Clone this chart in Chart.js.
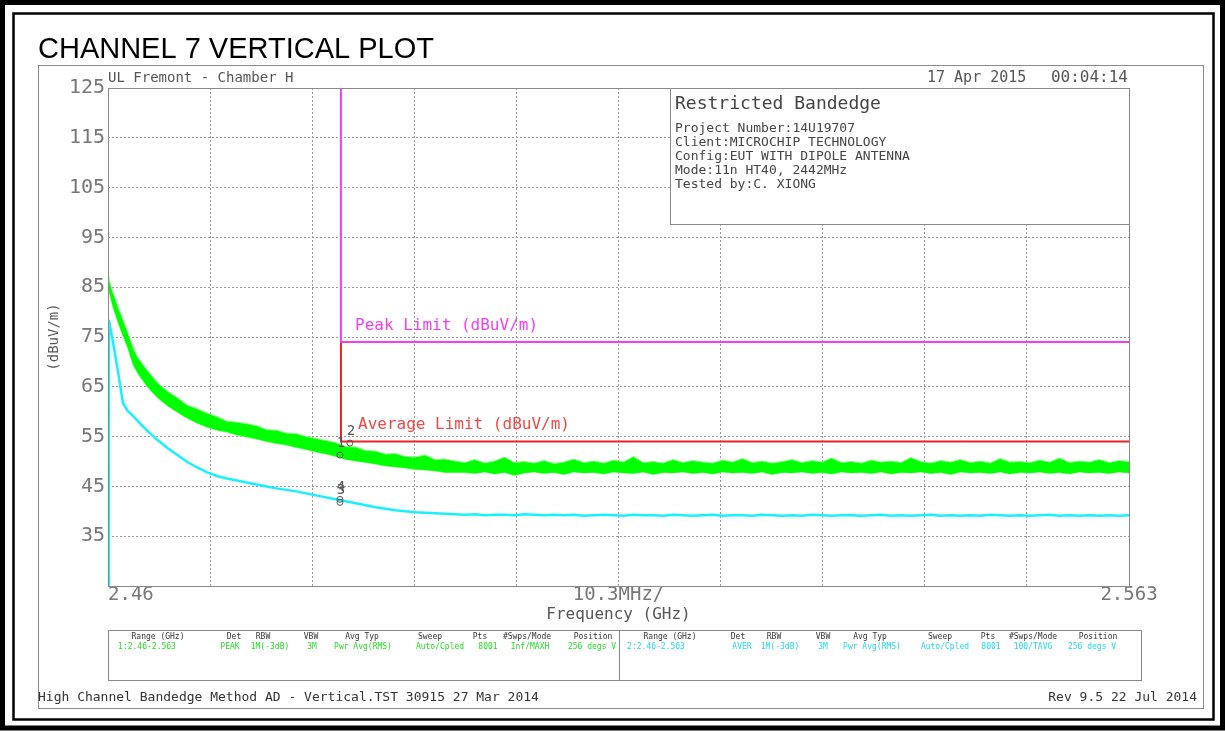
<!DOCTYPE html>
<html>
<head>
<meta charset="utf-8">
<title>Channel 7 Vertical Plot</title>
<script src="https://cdn.jsdelivr.net/npm/chart.js@4.4.0/dist/chart.umd.min.js"></script>
<style>
  html, body { margin:0; padding:0; background:#fff; }
  canvas { display:block; }
</style>
</head>
<body>
<canvas id="plot" width="1225" height="732"></canvas>
<script>
// sweep points, MHz above 2.46 GHz
var offsetMHz = [0,0.1,0.5,1,1.5,2,2.5,3,4,5,6,7,8,9,10,
  11,12,13,14,15,16,17,18,19,20,21,22,23,24,25,26,27,28,29,30,
  31,32,33,34,35,36,37,38,39,40,41,42,43,44,45,46,47,48,49,50,
  51,52,53,54,55,56,57,58,59,60,61,62,63,64,65,66,67,68,69,70,
  71,72,73,74,75,76,77,78,79,80,81,82,83,84,85,86,87,88,89,90,
  91,92,93,94,95,96,97,98,99,100,101,102,103];

// trace 1 (PEAK, max hold) - top and bottom of the noise band, dBuV/m
var peakUpper = [87.2,86.6,83.9,81.1,78.5,75.9,73.0,70.9,68.2,65.8,64.1,62.8,61.3,60.6,59.7,
  59.0,58.1,57.9,57.6,57.2,56.4,56.3,55.7,55.6,55.0,54.6,54.2,53.8,53.0,52.9,52.2,52.1,51.5,51.6,51.0,
  50.9,51.3,50.4,50.5,50.1,49.8,50.4,49.7,50.1,50.9,49.8,50.0,49.7,50.2,49.6,49.9,50.5,49.8,50.1,49.7,
  50.3,49.9,51.0,49.8,50.0,49.7,50.4,49.8,50.2,49.9,49.7,50.3,49.9,50.6,49.8,50.1,49.7,50.0,50.4,49.8,
  50.2,49.9,50.7,49.8,50.0,49.7,50.3,49.9,50.1,49.8,50.8,50.0,49.7,50.2,49.9,50.4,49.8,50.1,49.7,50.6,
  49.9,50.0,49.8,50.3,49.9,50.7,49.8,50.1,49.9,50.4,49.8,50.2,50.0];
var peakLower = [85.6,84.2,81.0,78.0,75.3,72.8,69.6,67.7,64.9,62.8,61.2,59.9,58.7,57.7,56.9,
  56.3,55.9,55.3,54.9,54.5,54.0,53.6,53.3,52.8,52.4,51.9,51.5,51.0,50.4,50.1,49.8,49.5,49.1,48.9,48.7,
  48.4,48.3,48.1,47.8,47.8,47.8,47.6,47.9,47.5,47.8,47.2,47.7,47.9,47.6,47.8,47.4,47.9,47.7,47.8,47.5,
  47.9,47.7,47.6,47.9,47.4,47.8,47.7,47.9,47.6,47.8,47.5,47.9,47.7,47.8,47.6,47.9,47.4,47.8,47.7,47.9,
  47.6,47.8,47.5,47.9,47.7,47.8,47.6,47.9,47.5,47.8,47.7,47.9,47.6,47.8,47.4,47.9,47.7,47.8,47.6,47.9,
  47.5,47.8,47.7,47.9,47.6,47.8,47.5,47.9,47.7,47.8,47.6,47.9,47.7];

// trace 2 (AVER, trace average)
var avgTrace = [25.0,78.4,74.0,68.2,61.8,60.1,59.2,58.1,56.1,54.3,52.7,51.3,49.9,48.8,47.8,
  47.1,46.6,46.2,45.8,45.4,45.0,44.6,44.3,44.0,43.6,43.2,42.8,42.4,42.0,41.6,41.2,40.8,40.5,40.2,40.0,
  39.8,39.7,39.6,39.5,39.4,39.3,39.4,39.2,39.3,39.3,39.2,39.4,39.3,39.2,39.3,39.2,39.3,39.1,39.2,39.3,
  39.2,39.1,39.3,39.2,39.2,39.1,39.3,39.2,39.1,39.2,39.3,39.1,39.2,39.2,39.1,39.3,39.2,39.1,39.2,39.1,
  39.3,39.2,39.1,39.2,39.2,39.1,39.2,39.3,39.1,39.2,39.1,39.2,39.3,39.1,39.2,39.1,39.2,39.1,39.3,39.2,
  39.1,39.2,39.1,39.2,39.3,39.1,39.2,39.1,39.2,39.1,39.2,39.1,39.2];

// limit lines (step at the 2.4835 GHz restricted band edge)
var limitFreq = [2.4835, 2.4835, 2.563];
var peakLimit = [125, 74, 74];
var avgLimit = [74, 54, 54];

// markers
var markerLabel = ['1', '2', '3', '4'];
var markerFreq = [2.4834, 2.4844, 2.4834, 2.4834];
var markerLevel = [51.3, 53.7, 41.8, 42.4];

// axes
var freqTicks = [2.46, 2.4703, 2.4806, 2.4909, 2.5012, 2.5115, 2.5218, 2.5321, 2.5424, 2.5527, 2.563];
var freqTickText = ['    2.46', '', '', '', '', '10.3MHz/', '', '', '', '', '2.563'];
var levelMin = 25, levelMax = 125, levelStep = 10;

var infoTitle = 'Restricted Bandedge';
var infoLines = ['Project Number:14U19707', 'Client:MICROCHIP TECHNOLOGY', 'Config:EUT WITH DIPOLE ANTENNA',
  'Mode:11n HT40, 2442MHz', 'Tested by:C. XIONG'];

var tableHead = ['Range (GHz)', 'Det', 'RBW', 'VBW', 'Avg Typ', 'Sweep', 'Pts', '#Swps/Mode', 'Position'];
var trace1Row = ['1:2.46-2.563', 'PEAK', '1M(-3dB)', '3M', 'Pwr Avg(RMS)', 'Auto/Cpled', '8001', 'Inf/MAXH', '256 degs V'];
var trace2Row = ['2:2.46-2.563', 'AVER', '1M(-3dB)', '3M', 'Pwr Avg(RMS)', 'Auto/Cpled', '8001', '100/TAVG', '256 degs V'];

var MONO = '"DejaVu Sans Mono", monospace';

function pts(xs, ys) {
  return ys.map(function (v, i) { return { x: xs[i], y: v }; });
}
var sweepGHz = offsetMHz.map(function (m) { return 2.46 + m / 1000; });

function txt(ctx, s, x, y, font, color, align) {
  ctx.font = font;
  ctx.fillStyle = color;
  ctx.textAlign = align || 'left';
  ctx.textBaseline = 'middle';
  ctx.fillText(s, x, y);
}

// info box sits over the grid, under the traces
var infoBox = {
  id: 'infoBox',
  beforeDatasetsDraw: function (chart) {
    var ctx = chart.ctx, a = chart.chartArea;
    ctx.save();
    ctx.fillStyle = '#fff';
    ctx.fillRect(670, a.top, a.right - 670, 136);
    ctx.strokeStyle = '#888';
    ctx.lineWidth = 1;
    ctx.strokeRect(670.5, a.top + 0.5, a.right - 670, 136);
    txt(ctx, infoTitle, 675, 104, '18px ' + MONO, '#444');
    infoLines.forEach(function (l, i) {
      txt(ctx, l, 675, 129 + i * 14, '13px ' + MONO, '#444');
    });
    ctx.restore();
  }
};

var sheet = {
  id: 'sheet',
  afterDraw: function (chart) {
    var ctx = chart.ctx, a = chart.chartArea;
    var x = chart.scales.x, y = chart.scales.y;
    ctx.save();

    // plot frame
    ctx.strokeStyle = '#8a8a8a';
    ctx.lineWidth = 1;
    ctx.strokeRect(a.left + 0.5, a.top + 0.5, a.right - a.left, a.bottom - a.top);

    // page frames
    ctx.strokeStyle = '#000';
    ctx.lineWidth = 5;
    ctx.strokeRect(2.5, 2.5, 1220, 725.5);
    ctx.lineWidth = 2.5;
    ctx.strokeRect(13.5, 13.5, 1200, 706);
    ctx.strokeStyle = '#8a8a8a';
    ctx.lineWidth = 1;
    ctx.strokeRect(38.5, 65.5, 1165, 643);

    // headings
    txt(ctx, 'CHANNEL 7 VERTICAL PLOT', 38, 50, '29px "Liberation Sans", Arial, sans-serif', '#000');
    txt(ctx, 'UL Fremont - Chamber H', 108, 78, '14px ' + MONO, '#555');
    txt(ctx, '17 Apr 2015', 927, 78, '15px ' + MONO, '#555');
    txt(ctx, '00:04:14', 1128, 78, '16px ' + MONO, '#555', 'right');

    // limit labels
    txt(ctx, 'Peak Limit (dBuV/m)', 355, y.getPixelForValue(peakLimit[1]) - 16, '16px ' + MONO, '#f040f0');
    txt(ctx, 'Average Limit (dBuV/m)', 358, y.getPixelForValue(avgLimit[1]) - 17, '16px ' + MONO, '#f04848');

    // marker numbers
    markerLabel.forEach(function (m, i) {
      txt(ctx, m, x.getPixelForValue(markerFreq[i]) + 1, y.getPixelForValue(markerLevel[i]) - 12, '14px ' + MONO, '#555', 'center');
    });

    // settings table
    ctx.strokeStyle = '#888';
    ctx.strokeRect(108.5, 630.5, 1033, 50);
    ctx.beginPath();
    ctx.moveTo(619.5, 630);
    ctx.lineTo(619.5, 680);
    ctx.stroke();
    var headL = [158, 234, 263, 311, 362, 430, 480, 527, 593];
    var headR = [670, 738, 774, 823, 870, 940, 988, 1033, 1098];
    var valL = [147, 230, 270, 312, 363, 440, 488, 530, 592];
    var valR = [656, 742, 780, 823, 872, 945, 991, 1033, 1092];
    tableHead.forEach(function (h, i) {
      txt(ctx, h, headL[i], 637, '8px ' + MONO, '#333', 'center');
      txt(ctx, h, headR[i], 637, '8px ' + MONO, '#333', 'center');
      txt(ctx, trace1Row[i], valL[i], 647, '8px ' + MONO, '#22dd22', 'center');
      txt(ctx, trace2Row[i], valR[i], 647, '8px ' + MONO, '#20d8f0', 'center');
    });

    // footer
    txt(ctx, 'High Channel Bandedge Method AD - Vertical.TST 30915 27 Mar 2014', 38, 698, '13px ' + MONO, '#333');
    txt(ctx, 'Rev 9.5 22 Jul 2014', 1197, 698, '13px ' + MONO, '#333', 'right');
    ctx.restore();
  }
};

new Chart(document.getElementById('plot'), {
  type: 'line',
  data: {
    datasets: [
      {
        label: 'Markers',
        data: pts(markerFreq, markerLevel),
        showLine: false,
        pointRadius: 3,
        pointBorderWidth: 1,
        pointBorderColor: '#555',
        pointBackgroundColor: 'rgba(0,0,0,0)'
      },
      {
        label: 'Peak Limit',
        data: pts(limitFreq, peakLimit),
        borderColor: '#f040f0',
        borderWidth: 2,
        pointRadius: 0
      },
      {
        label: 'Average Limit',
        data: pts(limitFreq, avgLimit),
        borderColor: '#ee2222',
        borderWidth: 2,
        pointRadius: 0
      },
      {
        label: 'Trace 2 AVER',
        data: pts(sweepGHz, avgTrace),
        borderColor: '#18f0ff',
        borderWidth: 2.5,
        pointRadius: 0
      },
      {
        label: 'Trace 1 PEAK top',
        data: pts(sweepGHz, peakUpper),
        borderColor: '#7dff7d',
        backgroundColor: '#00ff00',
        borderWidth: 1,
        pointRadius: 0,
        fill: '+1'
      },
      {
        label: 'Trace 1 PEAK bottom',
        data: pts(sweepGHz, peakLower),
        borderColor: '#7dff7d',
        borderWidth: 1,
        pointRadius: 0,
        fill: false
      }
    ]
  },
  options: {
    responsive: false,
    animation: false,
    layout: { padding: { left: 0, top: 88, right: 96, bottom: 0 } },
    plugins: {
      legend: { display: false },
      tooltip: { enabled: false },
      filler: { propagate: false }
    },
    scales: {
      x: {
        type: 'linear',
        min: 2.46,
        max: 2.563,
        afterBuildTicks: function (s) {
          s.ticks = freqTicks.map(function (v) { return { value: v }; });
        },
        afterFit: function (s) { s.height = 146; },
        ticks: {
          autoSkip: false,
          maxRotation: 0,
          padding: -2,
          color: '#777',
          font: { family: MONO, size: 19 },
          callback: function (v, i) { return freqTickText[i]; }
        },
        grid: { color: '#999', drawTicks: false },
        border: { display: false, dash: [2, 2] },
        title: {
          display: true,
          text: 'Frequency (GHz)',
          color: '#555',
          font: { family: MONO, size: 16 },
          padding: { top: 0, bottom: 108 }
        }
      },
      y: {
        min: levelMin,
        max: levelMax,
        afterFit: function (s) { s.width = 108; },
        ticks: {
          stepSize: levelStep,
          padding: 3,
          color: '#777',
          font: { family: MONO, size: 20 },
          callback: function (v) { return v === levelMin ? '' : v; }
        },
        grid: { color: '#999', drawTicks: false },
        border: { display: false, dash: [2, 2] },
        title: {
          display: true,
          text: '(dBuV/m)',
          color: '#555',
          font: { family: MONO, size: 14 },
          padding: { top: 46, bottom: 0 }
        }
      }
    }
  },
  plugins: [infoBox, sheet]
});
</script>
</body>
</html>
